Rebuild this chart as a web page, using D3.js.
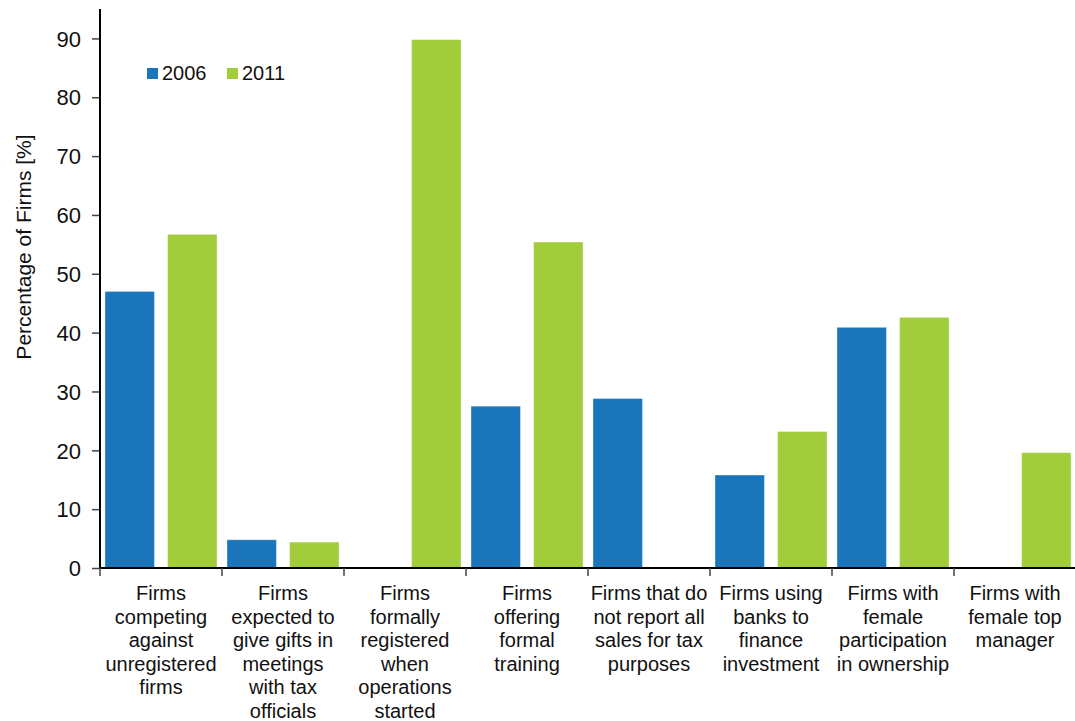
<!DOCTYPE html>
<html>
<head>
<meta charset="utf-8">
<script src="https://cdn.jsdelivr.net/npm/d3@7"></script>
<style>
  body { margin: 0; background: #fff; }
  svg text { font-family: "Liberation Sans", Arial, Helvetica, sans-serif; fill: #111; }
</style>
</head>
<body>
<div id="chart-area"></div>
<script>
// data
var categories = [
  ['Firms', 'competing', 'against', 'unregistered', 'firms'],
  ['Firms', 'expected to', 'give gifts in', 'meetings', 'with tax', 'officials'],
  ['Firms', 'formally', 'registered', 'when', 'operations', 'started'],
  ['Firms', 'offering', 'formal', 'training'],
  ['Firms that do', 'not report all', 'sales for tax', 'purposes'],
  ['Firms using', 'banks to', 'finance', 'investment'],
  ['Firms with', 'female', 'participation', 'in ownership'],
  ['Firms with', 'female top', 'manager']
];
var seriesNames = ['2006', '2011'];
var values2006 = [47.0, 4.8, null, 27.5, 28.8, 15.8, 40.9, null];
var values2011 = [56.7, 4.4, 89.8, 55.4, null, 23.2, 42.6, 19.6];
var yTicks = [0, 10, 20, 30, 40, 50, 60, 70, 80, 90];
var colors = ['#1b75bb', '#a2cd3a'];

var svgWidth = 1075, svgHeight = 721;
var margin = {left: 100, right: 0, top: 9, bottom: 153};
var width = 976;
var height = svgHeight - margin.top - margin.bottom;

var svg = d3.select('#chart-area')
  .append('svg')
  .attr('width', svgWidth)
  .attr('height', svgHeight);

var g = svg.append('g').attr('transform', 'translate(' + margin.left + ',' + margin.top + ')');

var idx = d3.range(categories.length);

var x0 = d3.scaleBand().domain(idx).range([0, width]).paddingInner(0).paddingOuter(0);
var x1 = d3.scaleBand().domain([0, 1]).range([0, x0.bandwidth()]).paddingInner(0.21).paddingOuter(0.08);
var y = d3.scaleLinear().domain([0, 95]).range([height, 0]);

var rows = [];
idx.forEach(function(i) {
  [values2006[i], values2011[i]].forEach(function(v, s) {
    if (v != null) rows.push({cat: i, s: s, v: v});
  });
});

g.selectAll('rect.bar').data(rows).enter()
  .append('rect')
  .attr('class', 'bar')
  .attr('x', function(d) { return x0(d.cat) + x1(d.s); })
  .attr('y', function(d) { return y(d.v); })
  .attr('width', x1.bandwidth())
  .attr('height', function(d) { return height - y(d.v); })
  .attr('fill', function(d) { return colors[d.s]; })
  .attr('stroke', '#ffffff')
  .attr('stroke-opacity', 0.35)
  .attr('stroke-width', 1);

// y axis
var yAxis = d3.axisLeft(y).tickValues(yTicks).tickSize(8).tickPadding(11);
var ya = g.append('g').call(yAxis);
ya.select('.domain').remove();
ya.selectAll('line').attr('stroke', '#444').attr('stroke-width', 1.5);
ya.selectAll('text').style('font-size', '22px').attr('dy', '0.35em');
g.append('line').attr('x1', 0).attr('x2', 0).attr('y1', 0).attr('y2', height)
  .attr('stroke', '#000').attr('stroke-width', 2);

// x axis with category separators
var xa = g.append('g').attr('transform', 'translate(0,' + height + ')');
xa.append('line').attr('x1', 0).attr('x2', width).attr('stroke', '#000').attr('stroke-width', 2);
xa.selectAll('line.sep').data(d3.range(categories.length + 1)).enter()
  .append('line')
  .attr('class', 'sep')
  .attr('x1', function(d) { return d * x0.step(); })
  .attr('x2', function(d) { return d * x0.step(); })
  .attr('y1', 0).attr('y2', 8)
  .attr('stroke', '#444').attr('stroke-width', 1.5);

var labels = xa.selectAll('text.cat').data(idx).enter()
  .append('text')
  .attr('class', 'cat')
  .attr('text-anchor', 'middle')
  .style('font-size', '20px')
  .attr('transform', function(d) { return 'translate(' + (x0(d) + x0.bandwidth() / 2) + ',32)'; });
labels.each(function(d) {
  var t = d3.select(this);
  categories[d].forEach(function(line, k) {
    t.append('tspan').attr('x', 0).attr('y', k * 23.5).text(line);
  });
});

// y label
svg.append('text')
  .attr('transform', 'translate(31,247) rotate(-90)')
  .attr('text-anchor', 'middle')
  .style('font-size', '21px')
  .text('Percentage of Firms [%]');

// legend
var lg = svg.append('g').attr('transform', 'translate(147,68)');
seriesNames.forEach(function(n, i) {
  var item = lg.append('g').attr('transform', 'translate(' + (i * 80) + ',0)');
  item.append('rect').attr('width', 11).attr('height', 11).attr('fill', colors[i]);
  item.append('text').attr('x', 15).attr('y', 12).style('font-size', '20px').text(n);
});
</script>
</body>
</html>
